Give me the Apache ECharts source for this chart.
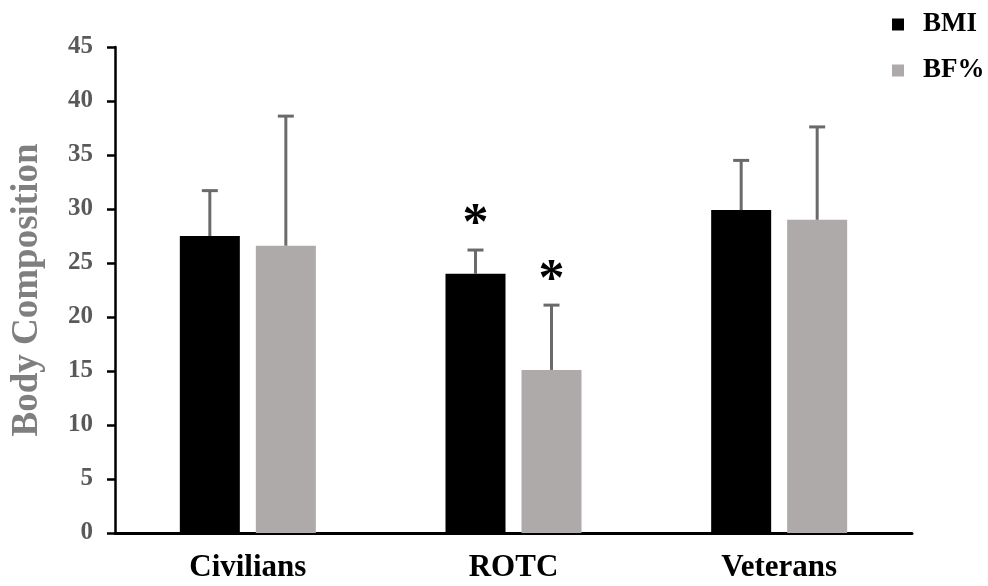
<!DOCTYPE html>
<html>
<head>
<meta charset="utf-8">
<script src="https://cdn.jsdelivr.net/npm/echarts@6/dist/echarts.min.js"></script>
<style>
  html, body { margin: 0; padding: 0; background: #fff; }
  #chart { width: 988px; height: 586px; }
</style>
</head>
<body>
<div id="chart"></div>
<script>
// Groups and measurements
const categories = ['Civilians', 'ROTC', 'Veterans'];
const bmiMean = [27.5, 24.0, 29.9];
const bmiSD = [4.2, 2.2, 4.6];
const bfMean = [26.6, 15.1, 29.0];
const bfSD = [12.0, 6.0, 8.6];
// Significant differences marked with an asterisk
const bmiSig = [false, true, false];
const bfSig = [false, true, false];
const yTicks = [0, 5, 10, 15, 20, 25, 30, 35, 40, 45];

const serif = "'Liberation Serif', 'Times New Roman', serif";
const BAR_W = 60;
const GAP = 16;
const OFFSET = (BAR_W + GAP) / 2;

function errorSeries(name, means, sds, sig, dx) {
  const data = means.map((m, i) => [i, m, m + sds[i], sig[i] ? 1 : 0]);
  return {
    type: 'custom',
    name: name + ' SD',
    z: 5,
    silent: true,
    data: data,
    renderItem: function (params, api) {
      const top = api.coord([api.value(0), api.value(2)]);
      const base = api.coord([api.value(0), api.value(1)]);
      const x = top[0] + dx;
      const children = [
        { type: 'line', shape: { x1: x, y1: base[1], x2: x, y2: top[1] },
          style: { stroke: '#6a6a6a', lineWidth: 3 } },
        { type: 'line', shape: { x1: x - 8, y1: top[1], x2: x + 8, y2: top[1] },
          style: { stroke: '#6a6a6a', lineWidth: 3 } }
      ];
      if (api.value(3)) {
        children.push({
          type: 'text',
          style: { text: '*', x: x, y: top[1] - 24, align: 'center', verticalAlign: 'middle',
                   font: 'bold 52px ' + serif, fill: '#000' }
        });
      }
      return { type: 'group', children: children };
    }
  };
}

const chart = echarts.init(document.getElementById('chart'));
chart.setOption({
  animation: false,
  backgroundColor: '#fff',
  grid: { left: 115, right: 76, top: 47, bottom: 53, containLabel: false },
  legend: {
    data: [{ name: 'BMI' }, { name: 'BF%' }],
    orient: 'vertical',
    left: 887,
    top: 6,
    itemWidth: 12,
    itemHeight: 12,
    itemGap: 19,
    icon: 'rect',
    textStyle: { fontFamily: serif, fontWeight: 'bold', fontSize: 27, lineHeight: 27, color: '#000', padding: [0, 0, 0, 14] }
  },
  xAxis: {
    type: 'category',
    data: categories,
    axisLine: { lineStyle: { color: '#000', width: 3 } },
    axisTick: { show: false },
    axisLabel: { fontFamily: serif, fontWeight: 'bold', fontSize: 31, color: '#000', margin: 19 }
  },
  yAxis: {
    type: 'value',
    min: yTicks[0],
    max: yTicks[yTicks.length - 1],
    interval: 5,
    name: 'Body Composition',
    nameLocation: 'middle',
    nameGap: 69,
    nameTextStyle: { fontFamily: serif, fontWeight: 'bold', fontSize: 37, color: '#7f7f7f' },
    axisLine: { show: true, lineStyle: { color: '#000', width: 2.5 } },
    axisTick: { show: true, inside: false, length: 8, lineStyle: { color: '#000', width: 2.5 } },
    axisLabel: { fontFamily: serif, fontWeight: 'bold', fontSize: 25, color: '#595959', margin: 22 },
    splitLine: { show: false }
  },
  series: [
    { type: 'bar', name: 'BMI', data: bmiMean, barWidth: BAR_W, barGap: (GAP / BAR_W * 100) + '%',
      itemStyle: { color: '#000' } },
    { type: 'bar', name: 'BF%', data: bfMean, barWidth: BAR_W,
      itemStyle: { color: '#adaaa9' } },
    errorSeries('BMI', bmiMean, bmiSD, bmiSig, -OFFSET),
    errorSeries('BF%', bfMean, bfSD, bfSig, OFFSET)
  ]
});
</script>
</body>
</html>
